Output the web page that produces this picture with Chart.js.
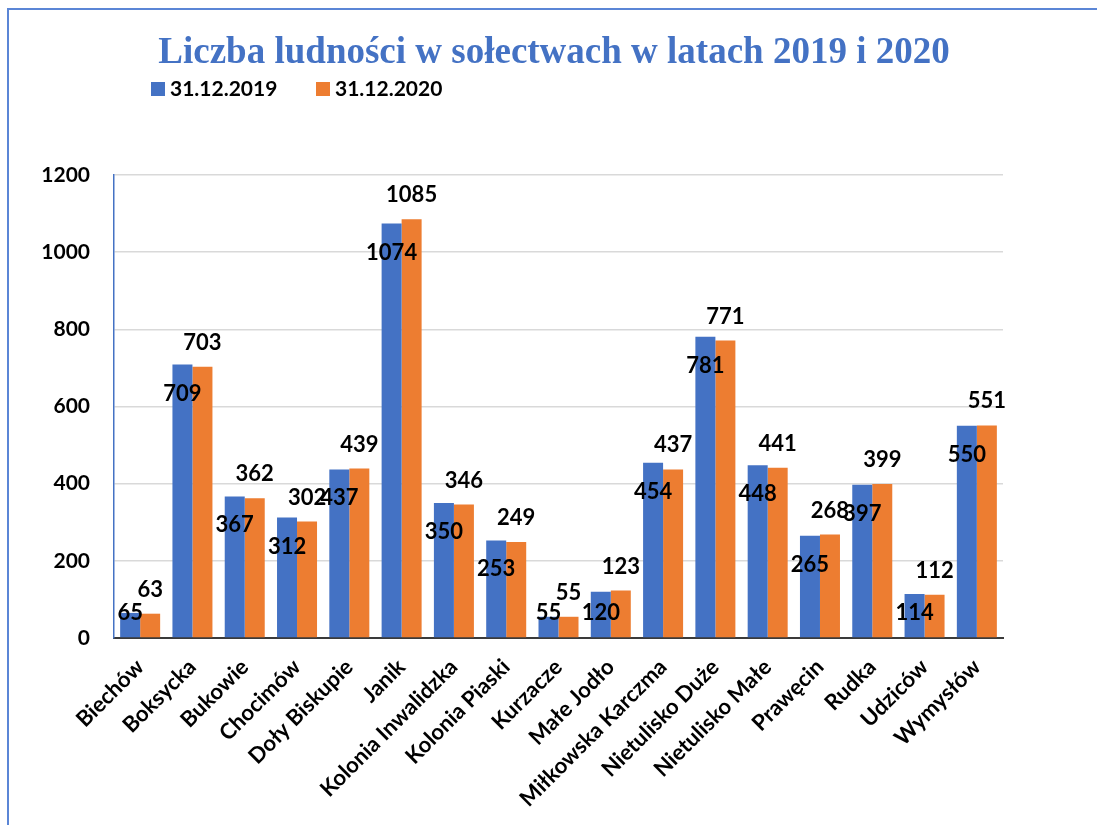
<!DOCTYPE html>
<html>
<head>
<meta charset="utf-8">
<script src="https://cdn.jsdelivr.net/npm/chart.js@4.4.1/dist/chart.umd.min.js"></script>
<style>
html,body{margin:0;padding:0;background:#fff;}
#wrap{position:relative;width:1097px;height:825px;}
</style>
</head>
<body>
<div id="wrap"><canvas id="c" width="1097" height="825"></canvas></div>
<script>
const categories = ["Biechów","Boksycka","Bukowie","Chocimów","Doły Biskupie","Janik","Kolonia Inwalidzka","Kolonia Piaski","Kurzacze","Małe Jodło","Miłkowska Karczma","Nietulisko Duże","Nietulisko Małe","Prawęcin","Rudka","Udziców","Wymysłów"];
const values2019 = [65,709,367,312,437,1074,350,253,55,120,454,781,448,265,397,114,550];
const values2020 = [63,703,362,302,439,1085,346,249,55,123,437,771,441,268,399,112,551];
const seriesNames = ["31.12.2019","31.12.2020"];
const yTicks = [0,200,400,600,800,1000,1200];
const titleText = "Liczba ludności w sołectwach w latach 2019 i 2020";

const BLUE = "#4472C4", ORANGE = "#ED7D31";
const FONT = "Lato, 'Open Sans', sans-serif";

const decor = {
  id: "decor",
  beforeDraw(chart) {
    const ctx = chart.ctx;
    ctx.save();
    ctx.strokeStyle = "#5B86D6";
    ctx.lineWidth = 2;
    ctx.beginPath();
    ctx.moveTo(8, 825); ctx.lineTo(8, 9); ctx.lineTo(1097, 9);
    ctx.stroke();
    // title
    ctx.fillStyle = BLUE;
    ctx.font = "bold 37px 'Liberation Serif', 'Times New Roman', serif";
    ctx.textAlign = "center"; ctx.textBaseline = "middle";
    ctx.fillText(titleText, 554, 53);
    // legend
    const ds = chart.data.datasets;
    const lx = [151, 316];
    ctx.font = "bold 21px " + FONT;
    ctx.textAlign = "left";
    ds.forEach((d, i) => {
      ctx.fillStyle = d.backgroundColor;
      ctx.fillRect(lx[i], 82, 14, 14);
      ctx.fillStyle = "#000";
      ctx.fillText(d.label, lx[i] + 19, 89);
    });
    ctx.restore();
  },
  afterDatasetsDraw(chart) {
    const ctx = chart.ctx;
    ctx.save();
    ctx.font = "bold 22px " + FONT;
    ctx.fillStyle = "#000";
    ctx.textAlign = "center"; ctx.textBaseline = "middle";
    chart.data.datasets.forEach((d, i) => {
      const meta = chart.getDatasetMeta(i);
      meta.data.forEach((bar, j) => {
        const v = d.data[j];
        let y;
        if (i === 0) y = Math.min(bar.y + 29, bar.base - 24);
        else y = bar.y - 24;
        ctx.fillText(String(v), bar.x, y);
      });
    });
    ctx.restore();
  }
};

new Chart(document.getElementById("c"), {
  type: "bar",
  data: {
    labels: categories,
    datasets: [
      {label: seriesNames[0], data: values2019, backgroundColor: BLUE, categoryPercentage: 0.765, barPercentage: 1},
      {label: seriesNames[1], data: values2020, backgroundColor: ORANGE, categoryPercentage: 0.765, barPercentage: 1}
    ]
  },
  options: {
    responsive: false,
    animation: false,
    devicePixelRatio: 1,
    layout: {padding: {top: 175, right: 94, bottom: 0, left: 0}},
    plugins: {legend: {display: false}, title: {display: false}, tooltip: {enabled: false}},
    scales: {
      x: {
        grid: {display: false, drawTicks: false},
        border: {color: "#3a3a3a", width: 2},
        ticks: {color: "#000", font: {family: FONT, weight: "bold", size: 22}, minRotation: 45, maxRotation: 45, padding: 16, autoSkip: false},
        afterFit(s) { s.height = 187; }
      },
      y: {
        min: 0, max: 1200,
        afterBuildTicks(s) { s.ticks = yTicks.map(v => ({value: v})); },
        grid: {color: "#d9d9d9", lineWidth: 1.5, drawTicks: false},
        border: {color: BLUE, width: 1.5},
        ticks: {color: "#000", font: {family: FONT, weight: "bold", size: 21}, padding: 24, callback: (v) => String(v)},
        afterFit(s) { s.width = 114; }
      }
    }
  },
  plugins: [decor]
});
</script>
</body>
</html>
